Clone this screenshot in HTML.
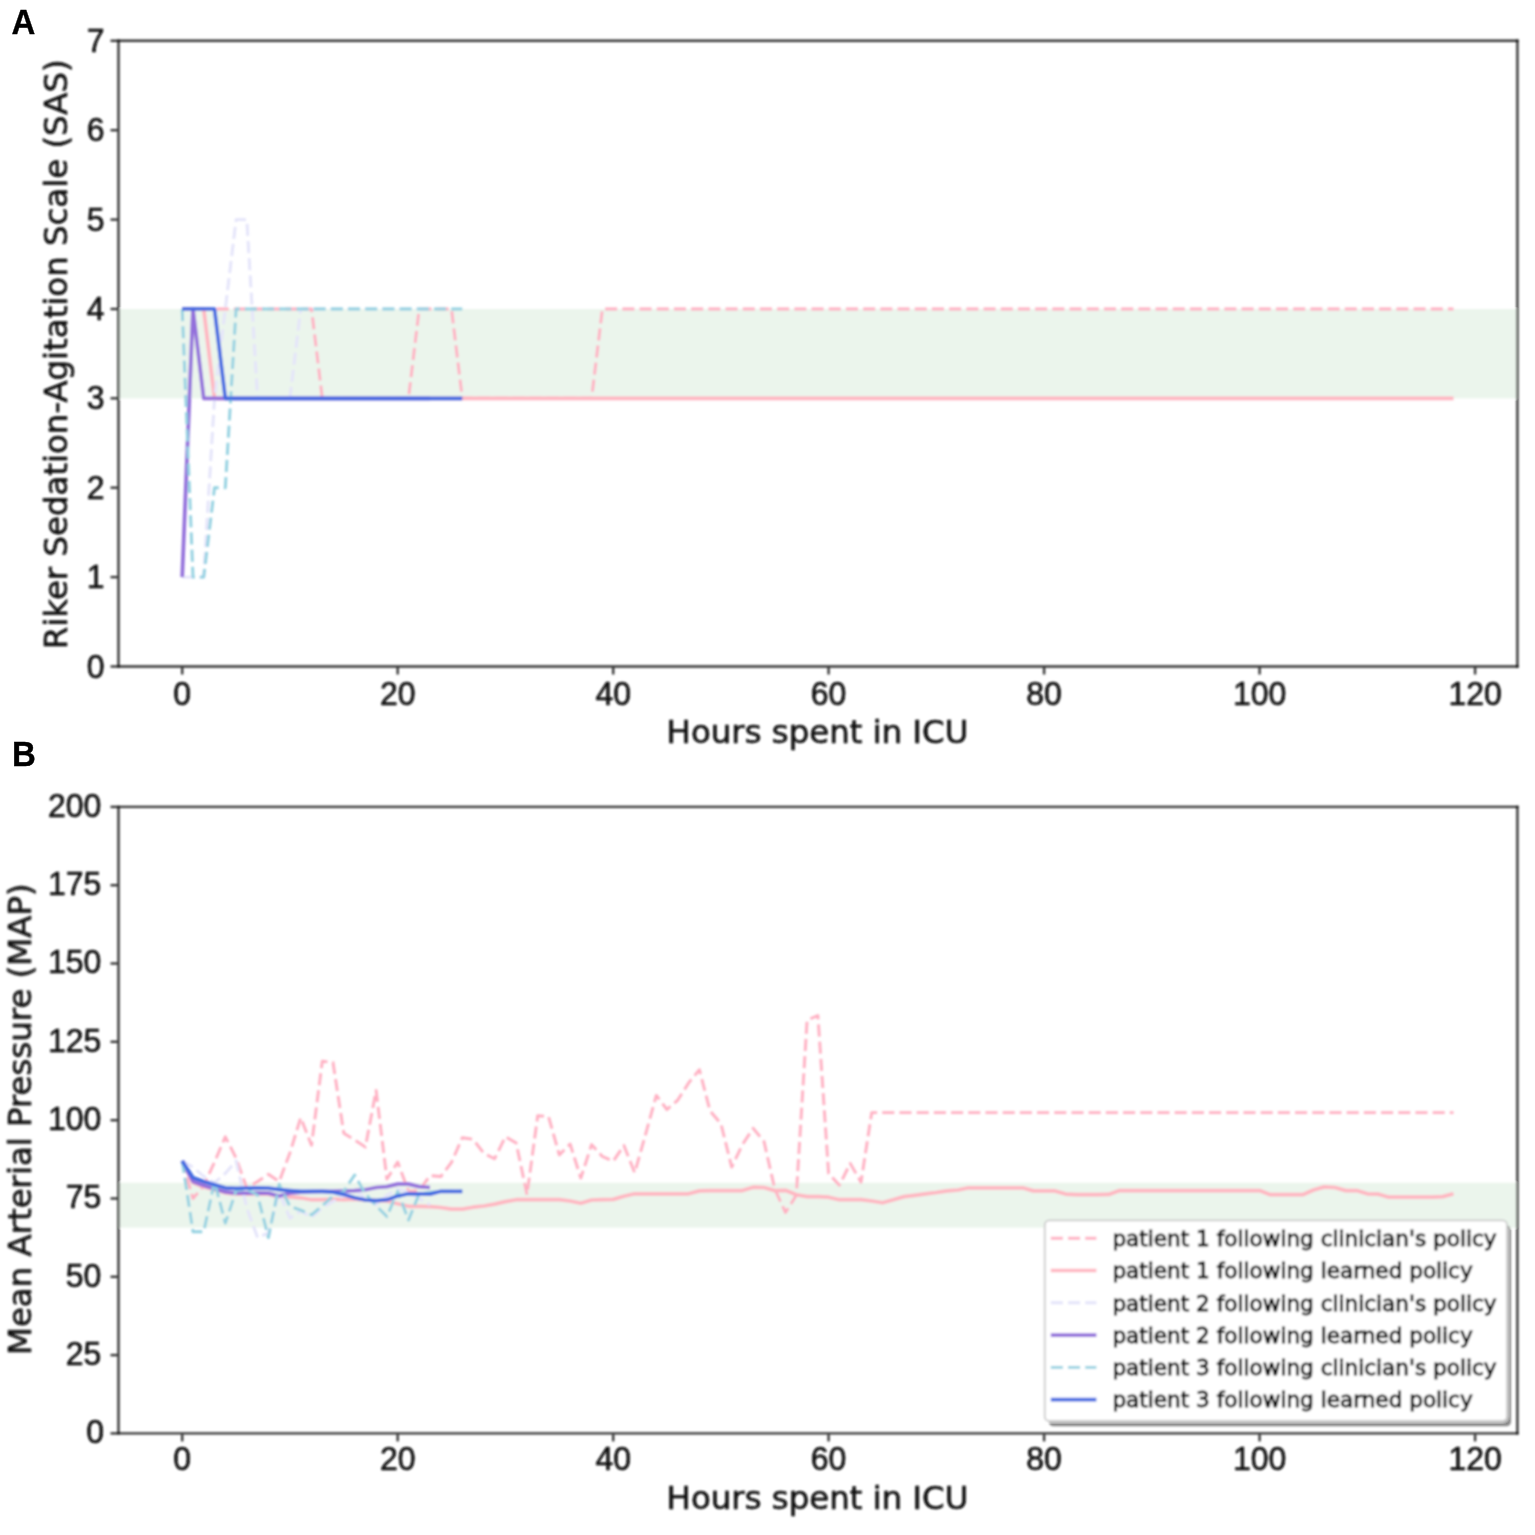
<!DOCTYPE html>
<html lang="en"><head><meta charset="utf-8"><title>Figure</title>
<style>
html,body{margin:0;padding:0;background:#fff;}
svg{display:block;}
.t{font-family:"Liberation Sans",sans-serif;font-size:32px;fill:#0a0a0a;stroke:#0a0a0a;stroke-width:0.55px;}
.l{font-family:"DejaVu Sans","Liberation Sans",sans-serif;font-size:32.4px;fill:#0a0a0a;stroke:#0a0a0a;stroke-width:0.55px;}
.g{font-family:"DejaVu Sans","Liberation Sans",sans-serif;font-size:21.6px;fill:#000;stroke:#000;stroke-width:0.9px;}
.p{font-family:"Liberation Sans",sans-serif;font-size:33px;font-weight:bold;fill:#000;stroke:#000;stroke-width:0.35px;}
</style></head><body>
<svg width="1535" height="1535" viewBox="0 0 1535 1535">
<defs><filter id="soft" filterUnits="userSpaceOnUse" x="0" y="0" width="1535" height="1535"><feGaussianBlur stdDeviation="0.8"/></filter></defs>
<rect width="1535" height="1535" fill="#fff"/>
<g filter="url(#soft)">
<rect x="118.5" y="309.0" width="1398.9" height="89.4" fill="#ebf5ec"/>
<polyline points="182.2,309.0 193.0,309.0 203.7,309.0 214.5,309.0 225.3,309.0 236.1,309.0 246.8,309.0 257.6,309.0 268.4,309.0 279.2,309.0 289.9,309.0 300.7,309.0 311.5,309.0 322.3,398.3 333.0,398.3 343.8,398.3 354.6,398.3 365.4,398.3 376.1,398.3 386.9,398.3 397.7,398.3 408.5,398.3 419.2,309.0 430.0,309.0 440.8,309.0 451.5,309.0 462.3,398.3 473.1,398.3 483.9,398.3 494.6,398.3 505.4,398.3 516.2,398.3 527.0,398.3 537.7,398.3 548.5,398.3 559.3,398.3 570.1,398.3 580.8,398.3 591.6,398.3 602.4,309.0 613.2,309.0 623.9,309.0 634.7,309.0 645.5,309.0 656.3,309.0 667.0,309.0 677.8,309.0 688.6,309.0 699.4,309.0 710.1,309.0 720.9,309.0 731.7,309.0 742.4,309.0 753.2,309.0 764.0,309.0 774.8,309.0 785.5,309.0 796.3,309.0 807.1,309.0 817.9,309.0 828.6,309.0 839.4,309.0 850.2,309.0 861.0,309.0 871.7,309.0 882.5,309.0 893.3,309.0 904.1,309.0 914.8,309.0 925.6,309.0 936.4,309.0 947.2,309.0 957.9,309.0 968.7,309.0 979.5,309.0 990.2,309.0 1001.0,309.0 1011.8,309.0 1022.6,309.0 1033.3,309.0 1044.1,309.0 1054.9,309.0 1065.7,309.0 1076.4,309.0 1087.2,309.0 1098.0,309.0 1108.8,309.0 1119.5,309.0 1130.3,309.0 1141.1,309.0 1151.9,309.0 1162.6,309.0 1173.4,309.0 1184.2,309.0 1195.0,309.0 1205.7,309.0 1216.5,309.0 1227.3,309.0 1238.1,309.0 1248.8,309.0 1259.6,309.0 1270.4,309.0 1281.1,309.0 1291.9,309.0 1302.7,309.0 1313.5,309.0 1324.2,309.0 1335.0,309.0 1345.8,309.0 1356.6,309.0 1367.3,309.0 1378.1,309.0 1388.9,309.0 1399.7,309.0 1410.4,309.0 1421.2,309.0 1432.0,309.0 1442.8,309.0 1453.5,309.0" fill="none" stroke="#ffb0c2" stroke-width="2.90" stroke-linejoin="round" stroke-linecap="butt" stroke-dasharray="12.1,5.1"/>
<polyline points="182.2,309.0 193.0,309.0 203.7,309.0 214.5,398.3 225.3,398.3 236.1,398.3 246.8,398.3 257.6,398.3 268.4,398.3 279.2,398.3 289.9,398.3 300.7,398.3 311.5,398.3 322.3,398.3 333.0,398.3 343.8,398.3 354.6,398.3 365.4,398.3 376.1,398.3 386.9,398.3 397.7,398.3 408.5,398.3 419.2,398.3 430.0,398.3 440.8,398.3 451.5,398.3 462.3,398.3 473.1,398.3 483.9,398.3 494.6,398.3 505.4,398.3 516.2,398.3 527.0,398.3 537.7,398.3 548.5,398.3 559.3,398.3 570.1,398.3 580.8,398.3 591.6,398.3 602.4,398.3 613.2,398.3 623.9,398.3 634.7,398.3 645.5,398.3 656.3,398.3 667.0,398.3 677.8,398.3 688.6,398.3 699.4,398.3 710.1,398.3 720.9,398.3 731.7,398.3 742.4,398.3 753.2,398.3 764.0,398.3 774.8,398.3 785.5,398.3 796.3,398.3 807.1,398.3 817.9,398.3 828.6,398.3 839.4,398.3 850.2,398.3 861.0,398.3 871.7,398.3 882.5,398.3 893.3,398.3 904.1,398.3 914.8,398.3 925.6,398.3 936.4,398.3 947.2,398.3 957.9,398.3 968.7,398.3 979.5,398.3 990.2,398.3 1001.0,398.3 1011.8,398.3 1022.6,398.3 1033.3,398.3 1044.1,398.3 1054.9,398.3 1065.7,398.3 1076.4,398.3 1087.2,398.3 1098.0,398.3 1108.8,398.3 1119.5,398.3 1130.3,398.3 1141.1,398.3 1151.9,398.3 1162.6,398.3 1173.4,398.3 1184.2,398.3 1195.0,398.3 1205.7,398.3 1216.5,398.3 1227.3,398.3 1238.1,398.3 1248.8,398.3 1259.6,398.3 1270.4,398.3 1281.1,398.3 1291.9,398.3 1302.7,398.3 1313.5,398.3 1324.2,398.3 1335.0,398.3 1345.8,398.3 1356.6,398.3 1367.3,398.3 1378.1,398.3 1388.9,398.3 1399.7,398.3 1410.4,398.3 1421.2,398.3 1432.0,398.3 1442.8,398.3 1453.5,398.3" fill="none" stroke="#ffb6c1" stroke-width="3.70" stroke-linejoin="round" stroke-linecap="butt"/>
<polyline points="182.2,577.1 193.0,577.1 203.7,577.1 214.5,398.3 225.3,309.0 236.1,219.6 246.8,219.6 257.6,398.3 268.4,398.3 279.2,398.3 289.9,398.3 300.7,309.0 311.5,309.0 322.3,309.0 333.0,309.0 343.8,309.0 354.6,309.0 365.4,309.0 376.1,309.0 386.9,309.0 397.7,309.0 408.5,309.0 419.2,309.0 430.0,309.0" fill="none" stroke="#e4e4fa" stroke-width="2.90" stroke-linejoin="round" stroke-linecap="butt" stroke-dasharray="12.1,5.1"/>
<polyline points="182.2,577.1 193.0,309.0 203.7,398.3 214.5,398.3 225.3,398.3 236.1,398.3 246.8,398.3 257.6,398.3 268.4,398.3 279.2,398.3 289.9,398.3 300.7,398.3 311.5,398.3 322.3,398.3 333.0,398.3 343.8,398.3 354.6,398.3 365.4,398.3 376.1,398.3 386.9,398.3 397.7,398.3 408.5,398.3 419.2,398.3 430.0,398.3" fill="none" stroke="#9370db" stroke-width="3.70" stroke-linejoin="round" stroke-linecap="butt"/>
<polyline points="182.2,309.0 193.0,577.1 203.7,577.1 214.5,487.7 225.3,487.7 236.1,309.0 246.8,309.0 257.6,309.0 268.4,309.0 279.2,309.0 289.9,309.0 300.7,309.0 311.5,309.0 322.3,309.0 333.0,309.0 343.8,309.0 354.6,309.0 365.4,309.0 376.1,309.0 386.9,309.0 397.7,309.0 408.5,309.0 419.2,309.0 430.0,309.0 440.8,309.0 451.5,309.0 462.3,309.0" fill="none" stroke="#94d1e1" stroke-width="2.90" stroke-linejoin="round" stroke-linecap="butt" stroke-dasharray="12.1,5.1"/>
<polyline points="182.2,309.0 193.0,309.0 203.7,309.0 214.5,309.0 225.3,398.3 236.1,398.3 246.8,398.3 257.6,398.3 268.4,398.3 279.2,398.3 289.9,398.3 300.7,398.3 311.5,398.3 322.3,398.3 333.0,398.3 343.8,398.3 354.6,398.3 365.4,398.3 376.1,398.3 386.9,398.3 397.7,398.3 408.5,398.3 419.2,398.3 430.0,398.3 440.8,398.3 451.5,398.3 462.3,398.3" fill="none" stroke="#4169e1" stroke-width="3.70" stroke-linejoin="round" stroke-linecap="butt"/>
<g stroke="#000" stroke-opacity="0.8" stroke-width="2.4" fill="none" stroke-linecap="square">
<line x1="118.5" y1="40.8" x2="118.5" y2="666.5"/>
<line x1="1517.4" y1="40.8" x2="1517.4" y2="666.5"/>
<line x1="118.5" y1="40.8" x2="1517.4" y2="40.8"/>
<line x1="118.5" y1="666.5" x2="1517.4" y2="666.5"/>
</g>
<g stroke="#000" stroke-opacity="0.8" stroke-width="2.4" stroke-linecap="butt">
<line x1="182.2" y1="667.5" x2="182.2" y2="674.5"/>
<line x1="397.7" y1="667.5" x2="397.7" y2="674.5"/>
<line x1="613.2" y1="667.5" x2="613.2" y2="674.5"/>
<line x1="828.6" y1="667.5" x2="828.6" y2="674.5"/>
<line x1="1044.1" y1="667.5" x2="1044.1" y2="674.5"/>
<line x1="1259.6" y1="667.5" x2="1259.6" y2="674.5"/>
<line x1="1475.1" y1="667.5" x2="1475.1" y2="674.5"/>
<line x1="110.5" y1="666.5" x2="117.5" y2="666.5"/>
<line x1="110.5" y1="577.1" x2="117.5" y2="577.1"/>
<line x1="110.5" y1="487.7" x2="117.5" y2="487.7"/>
<line x1="110.5" y1="398.3" x2="117.5" y2="398.3"/>
<line x1="110.5" y1="309.0" x2="117.5" y2="309.0"/>
<line x1="110.5" y1="219.6" x2="117.5" y2="219.6"/>
<line x1="110.5" y1="130.2" x2="117.5" y2="130.2"/>
<line x1="110.5" y1="40.8" x2="117.5" y2="40.8"/>
</g>
<text class="t" transform="translate(182.2,704.7) scale(1,1.045)" text-anchor="middle">0</text>
<text class="t" transform="translate(397.7,704.7) scale(1,1.045)" text-anchor="middle">20</text>
<text class="t" transform="translate(613.2,704.7) scale(1,1.045)" text-anchor="middle">40</text>
<text class="t" transform="translate(828.6,704.7) scale(1,1.045)" text-anchor="middle">60</text>
<text class="t" transform="translate(1044.1,704.7) scale(1,1.045)" text-anchor="middle">80</text>
<text class="t" transform="translate(1259.6,704.7) scale(1,1.045)" text-anchor="middle">100</text>
<text class="t" transform="translate(1475.1,704.7) scale(1,1.045)" text-anchor="middle">120</text>
<text class="t" transform="translate(104.6,677.5) scale(1,1.045)" text-anchor="end">0</text>
<text class="t" transform="translate(104.6,588.1) scale(1,1.045)" text-anchor="end">1</text>
<text class="t" transform="translate(104.6,498.7) scale(1,1.045)" text-anchor="end">2</text>
<text class="t" transform="translate(104.6,409.3) scale(1,1.045)" text-anchor="end">3</text>
<text class="t" transform="translate(104.6,319.9) scale(1,1.045)" text-anchor="end">4</text>
<text class="t" transform="translate(104.6,230.5) scale(1,1.045)" text-anchor="end">5</text>
<text class="t" transform="translate(104.6,141.1) scale(1,1.045)" text-anchor="end">6</text>
<text class="t" transform="translate(104.6,51.7) scale(1,1.045)" text-anchor="end">7</text>
<text class="l" x="817.5" y="743.3" text-anchor="middle">Hours spent in ICU</text>
<text class="l" transform="translate(66.6,354.3) rotate(-90)" text-anchor="middle">Riker Sedation-Agitation Scale (SAS)</text>
<rect x="118.5" y="1182.8" width="1398.9" height="44.8" fill="#ebf5ec"/>
<polyline points="182.2,1160.9 193.0,1198.5 203.7,1185.9 214.5,1162.1 225.3,1136.8 236.1,1158.1 246.8,1188.1 257.6,1181.5 268.4,1174.3 279.2,1181.5 289.9,1153.0 300.7,1117.6 311.5,1145.2 322.3,1061.3 333.0,1062.5 343.8,1133.3 354.6,1139.9 365.4,1147.1 376.1,1090.4 386.9,1179.0 397.7,1162.1 408.5,1191.3 419.2,1190.6 430.0,1175.6 440.8,1176.5 451.5,1162.4 462.3,1137.7 473.1,1139.3 483.9,1153.4 494.6,1158.7 505.4,1136.8 516.2,1143.0 527.0,1194.7 537.7,1115.8 548.5,1116.4 559.3,1154.9 570.1,1144.0 580.8,1178.1 591.6,1144.6 602.4,1156.5 613.2,1161.2 623.9,1145.5 634.7,1172.8 645.5,1134.6 656.3,1095.4 667.0,1109.5 677.8,1100.1 688.6,1082.9 699.4,1069.7 710.1,1111.1 720.9,1123.6 731.7,1167.1 742.4,1144.6 753.2,1128.3 764.0,1141.5 774.8,1189.1 785.5,1212.6 796.3,1195.3 807.1,1020.2 817.9,1015.5 828.6,1173.4 839.4,1185.3 850.2,1163.4 861.0,1182.2 871.7,1112.6 882.5,1112.6 893.3,1112.6 904.1,1112.6 914.8,1112.6 925.6,1112.6 936.4,1112.6 947.2,1112.6 957.9,1112.6 968.7,1112.6 979.5,1112.6 990.2,1112.6 1001.0,1112.6 1011.8,1112.6 1022.6,1112.6 1033.3,1112.6 1044.1,1112.6 1054.9,1112.6 1065.7,1112.6 1076.4,1112.6 1087.2,1112.6 1098.0,1112.6 1108.8,1112.6 1119.5,1112.6 1130.3,1112.6 1141.1,1112.6 1151.9,1112.6 1162.6,1112.6 1173.4,1112.6 1184.2,1112.6 1195.0,1112.6 1205.7,1112.6 1216.5,1112.6 1227.3,1112.6 1238.1,1112.6 1248.8,1112.6 1259.6,1112.6 1270.4,1112.6 1281.1,1112.6 1291.9,1112.6 1302.7,1112.6 1313.5,1112.6 1324.2,1112.6 1335.0,1112.6 1345.8,1112.6 1356.6,1112.6 1367.3,1112.6 1378.1,1112.6 1388.9,1112.6 1399.7,1112.6 1410.4,1112.6 1421.2,1112.6 1432.0,1112.6 1442.8,1112.6 1453.5,1112.6" fill="none" stroke="#ffb0c2" stroke-width="2.90" stroke-linejoin="round" stroke-linecap="butt" stroke-dasharray="12.1,5.1"/>
<polyline points="182.2,1160.9 193.0,1182.8 203.7,1186.9 214.5,1189.7 225.3,1192.8 236.1,1194.1 246.8,1194.1 257.6,1193.8 268.4,1194.1 279.2,1196.9 289.9,1196.9 300.7,1197.8 311.5,1199.7 322.3,1199.7 333.0,1199.1 343.8,1199.7 354.6,1199.1 365.4,1200.0 376.1,1200.7 386.9,1201.0 397.7,1203.8 408.5,1206.3 419.2,1206.3 430.0,1206.6 440.8,1207.5 451.5,1209.1 462.3,1209.1 473.1,1207.2 483.9,1206.0 494.6,1204.1 505.4,1201.6 516.2,1199.7 527.0,1199.7 537.7,1199.7 548.5,1199.7 559.3,1199.7 570.1,1201.0 580.8,1203.2 591.6,1200.0 602.4,1199.7 613.2,1199.4 623.9,1196.3 634.7,1193.8 645.5,1193.8 656.3,1193.8 667.0,1193.8 677.8,1193.8 688.6,1193.8 699.4,1190.9 710.1,1190.6 720.9,1190.6 731.7,1190.6 742.4,1190.6 753.2,1187.2 764.0,1187.5 774.8,1190.6 785.5,1190.3 796.3,1194.7 807.1,1196.6 817.9,1196.6 828.6,1197.2 839.4,1199.7 850.2,1199.7 861.0,1199.7 871.7,1201.0 882.5,1202.8 893.3,1199.7 904.1,1196.6 914.8,1195.3 925.6,1193.8 936.4,1192.5 947.2,1190.9 957.9,1190.0 968.7,1187.8 979.5,1187.8 990.2,1187.8 1001.0,1187.8 1011.8,1187.8 1022.6,1187.8 1033.3,1190.9 1044.1,1190.9 1054.9,1190.9 1065.7,1194.1 1076.4,1194.7 1087.2,1194.7 1098.0,1194.7 1108.8,1194.4 1119.5,1190.6 1130.3,1190.6 1141.1,1190.6 1151.9,1190.6 1162.6,1190.6 1173.4,1190.6 1184.2,1190.6 1195.0,1190.6 1205.7,1190.6 1216.5,1190.6 1227.3,1190.6 1238.1,1190.6 1248.8,1190.6 1259.6,1190.6 1270.4,1194.7 1281.1,1194.7 1291.9,1194.7 1302.7,1194.7 1313.5,1190.0 1324.2,1186.9 1335.0,1187.5 1345.8,1190.6 1356.6,1190.6 1367.3,1193.8 1378.1,1194.1 1388.9,1197.2 1399.7,1197.2 1410.4,1197.2 1421.2,1197.2 1432.0,1197.2 1442.8,1196.6 1453.5,1193.8" fill="none" stroke="#ffb6c1" stroke-width="3.70" stroke-linejoin="round" stroke-linecap="butt"/>
<polyline points="182.2,1160.9 193.0,1167.1 203.7,1176.5 214.5,1182.8 225.3,1173.4 236.1,1160.9 246.8,1207.9 257.6,1237.6 268.4,1232.9 279.2,1192.2 289.9,1218.2 300.7,1211.0 311.5,1217.3 322.3,1207.9 333.0,1201.6 343.8,1195.3 354.6,1189.1 365.4,1198.5 376.1,1204.7 386.9,1195.3 397.7,1189.1 408.5,1192.2 419.2,1198.5 430.0,1204.7" fill="none" stroke="#e4e4fa" stroke-width="2.90" stroke-linejoin="round" stroke-linecap="butt" stroke-dasharray="12.1,5.1"/>
<polyline points="182.2,1160.9 193.0,1181.5 203.7,1185.6 214.5,1188.8 225.3,1191.9 236.1,1193.1 246.8,1193.1 257.6,1192.8 268.4,1193.1 279.2,1196.0 289.9,1193.1 300.7,1192.2 311.5,1191.6 322.3,1191.3 333.0,1191.3 343.8,1190.9 354.6,1190.6 365.4,1189.7 376.1,1187.5 386.9,1186.6 397.7,1184.1 408.5,1184.1 419.2,1186.6 430.0,1187.5" fill="none" stroke="#9370db" stroke-width="3.70" stroke-linejoin="round" stroke-linecap="butt"/>
<polyline points="182.2,1160.9 193.0,1231.7 203.7,1231.7 214.5,1181.5 225.3,1223.2 236.1,1190.6 246.8,1189.1 257.6,1195.3 268.4,1237.6 279.2,1184.1 289.9,1206.3 300.7,1210.1 311.5,1214.8 322.3,1205.7 333.0,1196.0 343.8,1191.3 354.6,1175.0 365.4,1193.8 376.1,1205.7 386.9,1216.6 397.7,1191.3 408.5,1220.1 419.2,1193.8 430.0,1192.2 440.8,1191.3 451.5,1191.3 462.3,1191.3" fill="none" stroke="#94d1e1" stroke-width="2.90" stroke-linejoin="round" stroke-linecap="butt" stroke-dasharray="12.1,5.1"/>
<polyline points="182.2,1160.9 193.0,1177.8 203.7,1181.5 214.5,1184.7 225.3,1187.8 236.1,1188.4 246.8,1188.1 257.6,1187.8 268.4,1188.1 279.2,1189.7 289.9,1190.6 300.7,1191.3 311.5,1191.3 322.3,1191.3 333.0,1192.2 343.8,1194.4 354.6,1197.8 365.4,1200.0 376.1,1200.7 386.9,1199.7 397.7,1196.0 408.5,1193.8 419.2,1193.8 430.0,1194.1 440.8,1191.3 451.5,1191.3 462.3,1191.3" fill="none" stroke="#4169e1" stroke-width="3.70" stroke-linejoin="round" stroke-linecap="butt"/>
<g stroke="#000" stroke-opacity="0.8" stroke-width="2.4" fill="none" stroke-linecap="square">
<line x1="118.5" y1="806.9" x2="118.5" y2="1433.4"/>
<line x1="1517.4" y1="806.9" x2="1517.4" y2="1433.4"/>
<line x1="118.5" y1="806.9" x2="1517.4" y2="806.9"/>
<line x1="118.5" y1="1433.4" x2="1517.4" y2="1433.4"/>
</g>
<g stroke="#000" stroke-opacity="0.8" stroke-width="2.4" stroke-linecap="butt">
<line x1="182.2" y1="1434.4" x2="182.2" y2="1441.4"/>
<line x1="397.7" y1="1434.4" x2="397.7" y2="1441.4"/>
<line x1="613.2" y1="1434.4" x2="613.2" y2="1441.4"/>
<line x1="828.6" y1="1434.4" x2="828.6" y2="1441.4"/>
<line x1="1044.1" y1="1434.4" x2="1044.1" y2="1441.4"/>
<line x1="1259.6" y1="1434.4" x2="1259.6" y2="1441.4"/>
<line x1="1475.1" y1="1434.4" x2="1475.1" y2="1441.4"/>
<line x1="110.5" y1="1433.4" x2="117.5" y2="1433.4"/>
<line x1="110.5" y1="1355.1" x2="117.5" y2="1355.1"/>
<line x1="110.5" y1="1276.8" x2="117.5" y2="1276.8"/>
<line x1="110.5" y1="1198.5" x2="117.5" y2="1198.5"/>
<line x1="110.5" y1="1120.2" x2="117.5" y2="1120.2"/>
<line x1="110.5" y1="1041.8" x2="117.5" y2="1041.8"/>
<line x1="110.5" y1="963.5" x2="117.5" y2="963.5"/>
<line x1="110.5" y1="885.2" x2="117.5" y2="885.2"/>
<line x1="110.5" y1="806.9" x2="117.5" y2="806.9"/>
</g>
<text class="t" transform="translate(182.2,1469.6) scale(1,1.045)" text-anchor="middle">0</text>
<text class="t" transform="translate(397.7,1469.6) scale(1,1.045)" text-anchor="middle">20</text>
<text class="t" transform="translate(613.2,1469.6) scale(1,1.045)" text-anchor="middle">40</text>
<text class="t" transform="translate(828.6,1469.6) scale(1,1.045)" text-anchor="middle">60</text>
<text class="t" transform="translate(1044.1,1469.6) scale(1,1.045)" text-anchor="middle">80</text>
<text class="t" transform="translate(1259.6,1469.6) scale(1,1.045)" text-anchor="middle">100</text>
<text class="t" transform="translate(1475.1,1469.6) scale(1,1.045)" text-anchor="middle">120</text>
<text class="t" transform="translate(104.0,1443.1) scale(1,1.045)" text-anchor="end">0</text>
<text class="t" transform="translate(101.4,1364.8) scale(1,1.045)" text-anchor="end">25</text>
<text class="t" transform="translate(101.4,1286.5) scale(1,1.045)" text-anchor="end">50</text>
<text class="t" transform="translate(101.4,1208.2) scale(1,1.045)" text-anchor="end">75</text>
<text class="t" transform="translate(101.4,1129.9) scale(1,1.045)" text-anchor="end">100</text>
<text class="t" transform="translate(101.4,1051.5) scale(1,1.045)" text-anchor="end">125</text>
<text class="t" transform="translate(101.4,973.2) scale(1,1.045)" text-anchor="end">150</text>
<text class="t" transform="translate(101.4,894.9) scale(1,1.045)" text-anchor="end">175</text>
<text class="t" transform="translate(101.4,816.6) scale(1,1.045)" text-anchor="end">200</text>
<text class="l" x="817.5" y="1508.5" text-anchor="middle">Hours spent in ICU</text>
<text class="l" transform="translate(31.0,1119.3) rotate(-90)" text-anchor="middle">Mean Arterial Pressure (MAP)</text>
<rect x="1048.8" y="1225.6" width="462.2" height="200.6" rx="4.5" fill="#000" fill-opacity="0.46"/>
<rect x="1044.8" y="1220.4" width="462.2" height="200.6" rx="4.5" fill="#fff" stroke="#cccccc" stroke-width="1.8"/>
<line x1="1050.8" y1="1238.2" x2="1096.4" y2="1238.2" stroke="#ffb0c2" stroke-width="2.90" stroke-dasharray="12.1,5.1"/>
<text class="g" x="1112.4" y="1245.9">patient 1 following clinician&#39;s policy</text>
<line x1="1050.8" y1="1270.5" x2="1096.4" y2="1270.5" stroke="#ffb6c1" stroke-width="3.70"/>
<text class="g" x="1112.4" y="1278.2">patient 1 following learned policy</text>
<line x1="1050.8" y1="1302.8" x2="1096.4" y2="1302.8" stroke="#e4e4fa" stroke-width="2.90" stroke-dasharray="12.1,5.1"/>
<text class="g" x="1112.4" y="1310.5">patient 2 following clinician&#39;s policy</text>
<line x1="1050.8" y1="1335.1" x2="1096.4" y2="1335.1" stroke="#9370db" stroke-width="3.70"/>
<text class="g" x="1112.4" y="1342.8">patient 2 following learned policy</text>
<line x1="1050.8" y1="1367.4" x2="1096.4" y2="1367.4" stroke="#94d1e1" stroke-width="2.90" stroke-dasharray="12.1,5.1"/>
<text class="g" x="1112.4" y="1375.1">patient 3 following clinician&#39;s policy</text>
<line x1="1050.8" y1="1399.7" x2="1096.4" y2="1399.7" stroke="#4169e1" stroke-width="3.70"/>
<text class="g" x="1112.4" y="1407.4">patient 3 following learned policy</text>
</g>
<text class="p" transform="translate(11.45,34.0) scale(1,1.057)">A</text>
<text class="p" transform="translate(11.95,766.0) scale(1,1.057)">B</text>
</svg></body></html>
